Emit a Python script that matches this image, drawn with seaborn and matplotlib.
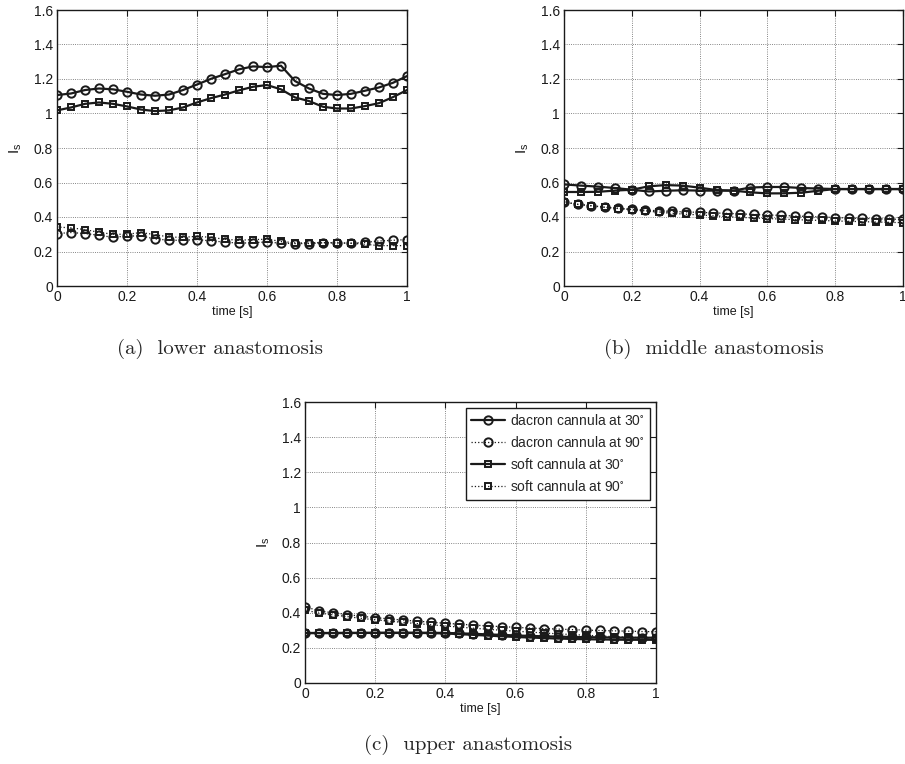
import numpy as np
import pandas as pd
import matplotlib
matplotlib.use("Agg")
import matplotlib.pyplot as plt
from matplotlib.ticker import FuncFormatter, MultipleLocator
import seaborn as sns


# ─────────────────────────────────────────────
# data
# ─────────────────────────────────────────────

t_fine   = np.round(np.arange(0, 26) * 0.04, 2)   # 0, 0.04, ..., 1
t_coarse = np.round(np.arange(0, 21) * 0.05, 2)   # 0, 0.05, ..., 1

# (a) lower anastomosis
a_dacron30 = [1.107, 1.116, 1.136, 1.145, 1.140, 1.126, 1.110, 1.103, 1.110, 1.136,
              1.168, 1.201, 1.228, 1.256, 1.273, 1.269, 1.277, 1.188, 1.145, 1.114,
              1.107, 1.114, 1.132, 1.151, 1.178, 1.217]
a_dacron90 = [0.304, 0.310, 0.304, 0.294, 0.282, 0.290, 0.290, 0.273, 0.265, 0.265,
              0.269, 0.261, 0.255, 0.248, 0.251, 0.255, 0.248, 0.246, 0.246, 0.250,
              0.250, 0.248, 0.253, 0.261, 0.265, 0.269]
a_soft30   = [1.018, 1.035, 1.056, 1.064, 1.056, 1.041, 1.023, 1.014, 1.018, 1.035,
              1.064, 1.089, 1.110, 1.134, 1.155, 1.165, 1.140, 1.093, 1.072, 1.039,
              1.029, 1.029, 1.043, 1.060, 1.095, 1.136]
a_soft90   = [0.342, 0.337, 0.327, 0.311, 0.300, 0.300, 0.310, 0.298, 0.284, 0.282,
              0.288, 0.282, 0.271, 0.265, 0.269, 0.271, 0.259, 0.250, 0.250, 0.252,
              0.250, 0.248, 0.242, 0.234, 0.234, 0.234]

# (b) middle anastomosis  (solid curves sampled every 0.05 s)
b_dacron30 = [0.589, 0.582, 0.576, 0.568, 0.558, 0.548, 0.552, 0.555, 0.553, 0.553,
              0.553, 0.571, 0.574, 0.574, 0.568, 0.565, 0.562, 0.562, 0.562, 0.562, 0.562]
b_soft30   = [0.545, 0.545, 0.546, 0.553, 0.558, 0.578, 0.585, 0.582, 0.570, 0.556,
              0.553, 0.543, 0.537, 0.537, 0.541, 0.552, 0.562, 0.562, 0.562, 0.562, 0.562]
b_dacron90 = [0.487, 0.474, 0.466, 0.457, 0.451, 0.445, 0.440, 0.436, 0.432, 0.429,
              0.427, 0.424, 0.421, 0.418, 0.415, 0.412, 0.409, 0.406, 0.403, 0.400,
              0.397, 0.394, 0.392, 0.390, 0.388, 0.386]
b_soft90   = [0.487, 0.473, 0.465, 0.456, 0.449, 0.442, 0.435, 0.428, 0.421, 0.416,
              0.412, 0.407, 0.402, 0.398, 0.394, 0.391, 0.388, 0.385, 0.382, 0.380,
              0.377, 0.375, 0.373, 0.371, 0.369, 0.367]

# (c) upper anastomosis
c_dacron30 = [0.285, 0.285, 0.285, 0.285, 0.285, 0.286, 0.286, 0.286, 0.286, 0.286,
              0.285, 0.283, 0.280, 0.277, 0.274, 0.271, 0.268, 0.266, 0.264, 0.262,
              0.261, 0.260, 0.259, 0.258, 0.258, 0.258]
c_dacron90 = [0.435, 0.410, 0.400, 0.390, 0.380, 0.372, 0.365, 0.358, 0.352, 0.346,
              0.340, 0.335, 0.330, 0.325, 0.321, 0.317, 0.313, 0.310, 0.307, 0.304,
              0.301, 0.299, 0.297, 0.295, 0.293, 0.292]
c_soft30   = [0.284, 0.284, 0.284, 0.285, 0.285, 0.285, 0.285, 0.285, 0.285, 0.284,
              0.282, 0.278, 0.274, 0.270, 0.266, 0.262, 0.259, 0.256, 0.253, 0.251,
              0.249, 0.248, 0.247, 0.246, 0.246, 0.246]
c_soft90   = [0.415, 0.398, 0.388, 0.378, 0.368, 0.360, 0.352, 0.345, 0.338, 0.331,
              0.325, 0.318, 0.312, 0.306, 0.300, 0.295, 0.290, 0.285, 0.280, 0.276,
              0.272, 0.268, 0.264, 0.261, 0.258, 0.255]

series_labels = [
    r"dacron cannula at 30$^{\circ}$",
    r"dacron cannula at 90$^{\circ}$",
    r"soft cannula at 30$^{\circ}$",
    r"soft cannula at 90$^{\circ}$",
]
captions = ["(a)  lower anastomosis", "(b)  middle anastomosis", "(c)  upper anastomosis"]


# ─────────────────────────────────────────────
# style
# ─────────────────────────────────────────────

sns.set_theme(style="white")
plt.rcParams["font.family"] = ["Liberation Sans", "DejaVu Sans"]
plt.rcParams["mathtext.default"] = "regular"

STYLES = [
    dict(marker="o", linestyle="-",  linewidth=1.6, markersize=6.0),
    dict(marker="o", linestyle=":",  linewidth=0.9, markersize=6.0),
    dict(marker="s", linestyle="-",  linewidth=1.6, markersize=5.0),
    dict(marker="s", linestyle=":",  linewidth=0.9, markersize=5.0),
]


def draw_panel(ax, curves, legend=False):
    for (x, y), label, st in zip(curves, series_labels, STYLES):
        df = pd.DataFrame({"time": x, "Is": y})
        sns.lineplot(
            data=df, x="time", y="Is", ax=ax,
            color="k", label=label if legend else None,
            markerfacecolor="none", markeredgecolor="k", markeredgewidth=1.4,
            **st,
        )

    ax.set_xlim(0, 1)
    ax.set_ylim(0, 1.6)
    ax.xaxis.set_major_locator(MultipleLocator(0.2))
    ax.yaxis.set_major_locator(MultipleLocator(0.2))
    fmt = FuncFormatter(lambda v, _: f"{v:g}")
    ax.xaxis.set_major_formatter(fmt)
    ax.yaxis.set_major_formatter(fmt)
    ax.tick_params(direction="in", length=4, width=0.8, top=True, right=True,
                   labelsize=10, pad=3, colors="k")
    ax.grid(True, linestyle=":", color="k", linewidth=0.6, alpha=0.7)
    for sp in ax.spines.values():
        sp.set_color("k")
        sp.set_linewidth(1.0)
    ax.set_xlabel("time [s]", fontsize=9, labelpad=1, color="k")
    ax.set_ylabel(r"$\mathregular{I_s}$", fontsize=11, labelpad=7, color="k")

    if legend:
        leg = ax.legend(loc="upper right", fontsize=10, frameon=True, fancybox=False,
                        framealpha=1, edgecolor="k", handlelength=2.4,
                        borderaxespad=0.4, labelspacing=0.5, borderpad=0.4,
                        handletextpad=0.4)
        leg.get_frame().set_linewidth(1.0)
    elif ax.get_legend() is not None:
        ax.get_legend().remove()


fig = plt.figure(figsize=(9.05, 7.64), dpi=100)

ax_a = fig.add_axes([57 / 905, 1 - 286 / 764, 350 / 905, 276 / 764])
ax_b = fig.add_axes([564 / 905, 1 - 286 / 764, 339 / 905, 276 / 764])
ax_c = fig.add_axes([305 / 905, 1 - 683 / 764, 351 / 905, 281 / 764])

draw_panel(ax_a, [(t_fine, a_dacron30), (t_fine, a_dacron90),
                  (t_fine, a_soft30), (t_fine, a_soft90)])
draw_panel(ax_b, [(t_coarse, b_dacron30), (t_fine, b_dacron90),
                  (t_coarse, b_soft30), (t_fine, b_soft90)])
draw_panel(ax_c, [(t_fine, c_dacron30), (t_fine, c_dacron90),
                  (t_fine, c_soft30), (t_fine, c_soft90)], legend=True)

# subfigure captions (LaTeX style, serif)
cap_kw = dict(ha="center", va="center", fontsize=15, family=["cmr10", "DejaVu Serif"])
fig.text(220 / 905, 1 - 349 / 764, captions[0], **cap_kw)
fig.text(714 / 905, 1 - 349 / 764, captions[1], **cap_kw)
fig.text(468 / 905, 1 - 745 / 764, captions[2], **cap_kw)

fig.savefig("out.png", dpi=100, facecolor="white")
